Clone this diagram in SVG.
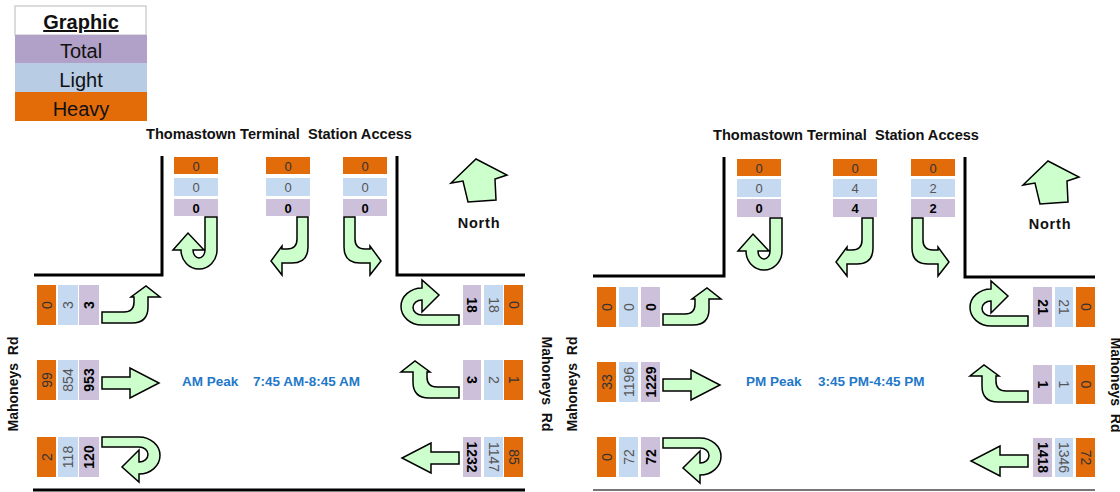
<svg xmlns="http://www.w3.org/2000/svg" xmlns:xlink="http://www.w3.org/1999/xlink" width="1120" height="492" viewBox="0 0 1120 492">
<style>
text{font-family:"Liberation Sans",Arial,sans-serif}
.ho{fill:#e26b0a}.li{fill:#c5d9f1}.to{fill:#ccc0da}
.nh{font-size:13px;fill:#333;text-anchor:middle}
.nl{font-size:13px;fill:#555;text-anchor:middle}
.nt{font-size:13px;fill:#000;font-weight:bold;text-anchor:middle}
.sh,.sl,.st{font-size:14px;text-anchor:middle;dominant-baseline:central}
.sh{fill:#333}.sl{fill:#555}.st{fill:#000;font-weight:bold}
.arr{fill:#ccffcc;stroke:#000;stroke-width:1.5;stroke-linejoin:miter}
.road{fill:none;stroke:#000;stroke-width:3}
.title{font-size:14.6px;font-weight:bold;fill:#111;text-anchor:middle;white-space:pre}
.rd{font-size:14px;font-weight:bold;fill:#111;text-anchor:middle;dominant-baseline:central;white-space:pre}
.peak{font-size:13.5px;font-weight:bold;fill:#1f78c8}
.north{font-size:14.5px;font-weight:bold;fill:#111;text-anchor:middle;letter-spacing:0.8px}
.leg{font-size:20px;fill:#111;text-anchor:middle}
</style>
<defs>
<path id="au" d="M0,0 H37 A21,18.5 0 0 1 37,37 V45 L20,30 L37,13 V25 A9,7.5 0 0 0 37,10 H0 Z"/>
<path id="aut" d="M0,0 H33 A19,18 0 0 1 33,36 V44 L16,29 L33,13 V24 A8,6 0 0 0 33,12 H0 Z"/>
<path id="al" d="M0,-11 H22 Q32,-11 32,-21 V-26 H29 L44,-37 L58,-26 H46 V-16 Q46,0 30,0 H0 Z"/>
<path id="as" d="M0,-6 H28 V-15 L57,0 L28,15 V6 H0 Z"/>
<path id="an" d="M0,0 L31,16 L19,20 L20,41 L-8,43 L-13,22 L-25,24 Z"/>
</defs>

<g id="legend">
<rect x="15" y="6" width="131" height="29" fill="#fff" stroke="#d0d0d0" stroke-width="1.5"/>
<text x="81" y="29" class="leg" font-weight="bold" text-decoration="underline">Graphic</text>
<rect x="15" y="35" width="132" height="28" fill="#b1a0c7"/>
<text x="81" y="58" class="leg">Total</text>
<rect x="15" y="63" width="132" height="29" fill="#b8cce4"/>
<text x="81" y="87" class="leg">Light</text>
<rect x="15" y="92" width="132" height="29" fill="#e36c09"/>
<text x="81" y="116" class="leg">Heavy</text>
</g>

<!-- ================= AM panel ================= -->
<g id="am-frame">
<polyline class="road" points="162,156 162,275 34,275"/>
<polyline class="road" points="397,156 397,275 525,275"/>
<line class="road" x1="33" y1="490" x2="525" y2="490" stroke-width="2.5"/>
<text class="title" x="279" y="139">Thomastown Terminal  Station Access</text>
<text class="rd" transform="translate(13,384) rotate(-90)">Mahoneys  Rd</text>
<text class="rd" transform="translate(547,384) rotate(90)">Mahoneys  Rd</text>
<text class="peak" x="182" y="386">AM Peak</text>
<text class="peak" x="253" y="386">7:45 AM-8:45 AM</text>
</g>
<g id="am-north">
<use href="#an" class="arr" transform="translate(476,159)"/>
<text class="north" x="479" y="228">North</text>
</g>

<g id="am-sb-u">
<rect class="ho" x="174" y="157" width="44" height="17"/><text class="nh" x="196" y="170.5">0</text>
<rect class="li" x="174" y="178" width="44" height="18"/><text class="nl" x="196" y="191.5">0</text>
<rect class="to" x="174" y="199" width="44" height="17"/><text class="nt" x="196" y="212.5">0</text>
<use href="#aut" class="arr" transform="translate(217,217) rotate(90)"/>
</g>
<g id="am-sb-r">
<rect class="ho" x="266" y="157" width="44" height="17"/><text class="nh" x="288" y="170.5">0</text>
<rect class="li" x="266" y="178" width="44" height="18"/><text class="nl" x="288" y="191.5">0</text>
<rect class="to" x="266" y="199" width="44" height="17"/><text class="nt" x="288" y="212.5">0</text>
<use href="#al" class="arr" transform="matrix(0,1,1,0,308,217)"/>
</g>
<g id="am-sb-l">
<rect class="ho" x="343" y="157" width="44" height="17"/><text class="nh" x="365" y="170.5">0</text>
<rect class="li" x="343" y="178" width="44" height="18"/><text class="nl" x="365" y="191.5">0</text>
<rect class="to" x="343" y="199" width="44" height="17"/><text class="nt" x="365" y="212.5">0</text>
<use href="#al" class="arr" transform="translate(344,217) rotate(90)"/>
</g>

<g id="am-eb-l">
<rect class="ho" x="37" y="285" width="19" height="40"/><text class="sh" transform="translate(46.5,305) rotate(-90)">0</text>
<rect class="li" x="58" y="285" width="20" height="40"/><text class="sl" transform="translate(68,305) rotate(-90)">3</text>
<rect class="to" x="79" y="285" width="20" height="40"/><text class="st" transform="translate(89,305) rotate(-90)">3</text>
<use href="#al" class="arr" transform="translate(102,323)"/>
</g>
<g id="am-eb-t">
<rect class="ho" x="37" y="360" width="19" height="40"/><text class="sh" transform="translate(46.5,380) rotate(-90)">99</text>
<rect class="li" x="58" y="360" width="20" height="40"/><text class="sl" transform="translate(68,380) rotate(-90)">854</text>
<rect class="to" x="79" y="360" width="20" height="40"/><text class="st" transform="translate(89,380) rotate(-90)">953</text>
<use href="#as" class="arr" transform="translate(102,383)"/>
</g>
<g id="am-eb-u">
<rect class="ho" x="37" y="437" width="19" height="40"/><text class="sh" transform="translate(46.5,457) rotate(-90)">2</text>
<rect class="li" x="58" y="437" width="20" height="40"/><text class="sl" transform="translate(68,457) rotate(-90)">118</text>
<rect class="to" x="79" y="437" width="20" height="40"/><text class="st" transform="translate(89,457) rotate(-90)">120</text>
<use href="#au" class="arr" transform="translate(102,437)"/>
</g>

<g id="am-wb-u">
<rect class="to" x="463" y="285" width="18" height="40"/><text class="st" transform="translate(472,305) rotate(90)">18</text>
<rect class="li" x="484" y="285" width="19" height="40"/><text class="sl" transform="translate(493.5,305) rotate(90)">18</text>
<rect class="ho" x="504" y="285" width="19" height="40"/><text class="sh" transform="translate(513.5,305) rotate(90)">0</text>
<use href="#au" class="arr" transform="translate(459,325) rotate(180)"/>
</g>
<g id="am-wb-r">
<rect class="to" x="463" y="360" width="18" height="40"/><text class="st" transform="translate(472,380) rotate(90)">3</text>
<rect class="li" x="484" y="360" width="19" height="40"/><text class="sl" transform="translate(493.5,380) rotate(90)">2</text>
<rect class="ho" x="504" y="360" width="19" height="40"/><text class="sh" transform="translate(513.5,380) rotate(90)">1</text>
<use href="#al" class="arr" transform="translate(459,398) scale(-1,1)"/>
</g>
<g id="am-wb-t">
<rect class="to" x="463" y="437" width="18" height="40"/><text class="st" transform="translate(472,457) rotate(90)">1232</text>
<rect class="li" x="484" y="437" width="19" height="40"/><text class="sl" transform="translate(493.5,457) rotate(90)">1147</text>
<rect class="ho" x="504" y="437" width="19" height="40"/><text class="sh" transform="translate(513.5,457) rotate(90)">85</text>
<use href="#as" class="arr" transform="translate(459,458) scale(-1,1)"/>
</g>

<!-- ================= PM panel ================= -->
<g id="pm-frame">
<polyline class="road" points="724,157 724,276 593,276"/>
<polyline class="road" points="965,157 965,277 1095,277"/>
<line x1="593" y1="490" x2="1095" y2="490" stroke="#777" stroke-width="2"/>
<text class="title" x="846" y="140">Thomastown Terminal  Station Access</text>
<text class="rd" transform="translate(572,384) rotate(-90)">Mahoneys  Rd</text>
<text class="rd" transform="translate(1116,385) rotate(90)">Mahoneys  Rd</text>
<text class="peak" x="746" y="386">PM Peak</text>
<text class="peak" x="818" y="386">3:45 PM-4:45 PM</text>
</g>
<g id="pm-north">
<use href="#an" class="arr" transform="translate(1048,161)"/>
<text class="north" x="1050" y="229">North</text>
</g>

<g id="pm-sb-u">
<rect class="ho" x="737" y="159" width="44" height="17"/><text class="nh" x="759" y="172.5">0</text>
<rect class="li" x="737" y="179" width="44" height="18"/><text class="nl" x="759" y="192.5">0</text>
<rect class="to" x="737" y="199" width="44" height="18"/><text class="nt" x="759" y="213">0</text>
<use href="#aut" class="arr" transform="translate(782,218) rotate(90)"/>
</g>
<g id="pm-sb-r">
<rect class="ho" x="833" y="159" width="44" height="17"/><text class="nh" x="855" y="172.5">0</text>
<rect class="li" x="833" y="179" width="44" height="18"/><text class="nl" x="855" y="192.5">4</text>
<rect class="to" x="833" y="199" width="44" height="18"/><text class="nt" x="855" y="213">4</text>
<use href="#al" class="arr" transform="matrix(0,1,1,0,873,218)"/>
</g>
<g id="pm-sb-l">
<rect class="ho" x="911" y="159" width="44" height="17"/><text class="nh" x="933" y="172.5">0</text>
<rect class="li" x="911" y="179" width="44" height="18"/><text class="nl" x="933" y="192.5">2</text>
<rect class="to" x="911" y="199" width="44" height="18"/><text class="nt" x="933" y="213">2</text>
<use href="#al" class="arr" transform="translate(912,218) rotate(90)"/>
</g>

<g id="pm-eb-l">
<rect class="ho" x="597" y="287" width="19" height="40"/><text class="sh" transform="translate(606.5,307) rotate(-90)">0</text>
<rect class="li" x="619" y="287" width="19" height="40"/><text class="sl" transform="translate(628.5,307) rotate(-90)">0</text>
<rect class="to" x="641" y="287" width="19" height="40"/><text class="st" transform="translate(650.5,307) rotate(-90)">0</text>
<use href="#al" class="arr" transform="translate(663,325)"/>
</g>
<g id="pm-eb-t">
<rect class="ho" x="597" y="362" width="19" height="40"/><text class="sh" transform="translate(606.5,382) rotate(-90)">33</text>
<rect class="li" x="619" y="362" width="19" height="40"/><text class="sl" transform="translate(628.5,382) rotate(-90)">1196</text>
<rect class="to" x="641" y="362" width="19" height="40"/><text class="st" transform="translate(650.5,382) rotate(-90)">1229</text>
<use href="#as" class="arr" transform="translate(663,385)"/>
</g>
<g id="pm-eb-u">
<rect class="ho" x="597" y="437" width="19" height="40"/><text class="sh" transform="translate(606.5,457) rotate(-90)">0</text>
<rect class="li" x="619" y="437" width="19" height="40"/><text class="sl" transform="translate(628.5,457) rotate(-90)">72</text>
<rect class="to" x="641" y="437" width="19" height="40"/><text class="st" transform="translate(650.5,457) rotate(-90)">72</text>
<use href="#au" class="arr" transform="translate(663,438)"/>
</g>

<g id="pm-wb-u">
<rect class="to" x="1033" y="287" width="19" height="40"/><text class="st" transform="translate(1042.5,307) rotate(90)">21</text>
<rect class="li" x="1055" y="287" width="18" height="40"/><text class="sl" transform="translate(1064,307) rotate(90)">21</text>
<rect class="ho" x="1076" y="287" width="19" height="40"/><text class="sh" transform="translate(1085.5,307) rotate(90)">0</text>
<use href="#au" class="arr" transform="translate(1028,326) rotate(180)"/>
</g>
<g id="pm-wb-r">
<rect class="to" x="1033" y="365" width="19" height="39"/><text class="st" transform="translate(1042.5,384.5) rotate(90)">1</text>
<rect class="li" x="1055" y="365" width="18" height="39"/><text class="sl" transform="translate(1064,384.5) rotate(90)">1</text>
<rect class="ho" x="1076" y="365" width="19" height="39"/><text class="sh" transform="translate(1085.5,384.5) rotate(90)">0</text>
<use href="#al" class="arr" transform="translate(1028,402) scale(-1,1)"/>
</g>
<g id="pm-wb-t">
<rect class="to" x="1033" y="438" width="19" height="39"/><text class="st" transform="translate(1042.5,457.5) rotate(90)">1418</text>
<rect class="li" x="1055" y="438" width="18" height="39"/><text class="sl" transform="translate(1064,457.5) rotate(90)">1346</text>
<rect class="ho" x="1076" y="438" width="19" height="39"/><text class="sh" transform="translate(1085.5,457.5) rotate(90)">72</text>
<use href="#as" class="arr" transform="translate(1028,461) scale(-1,1)"/>
</g>
</svg>
